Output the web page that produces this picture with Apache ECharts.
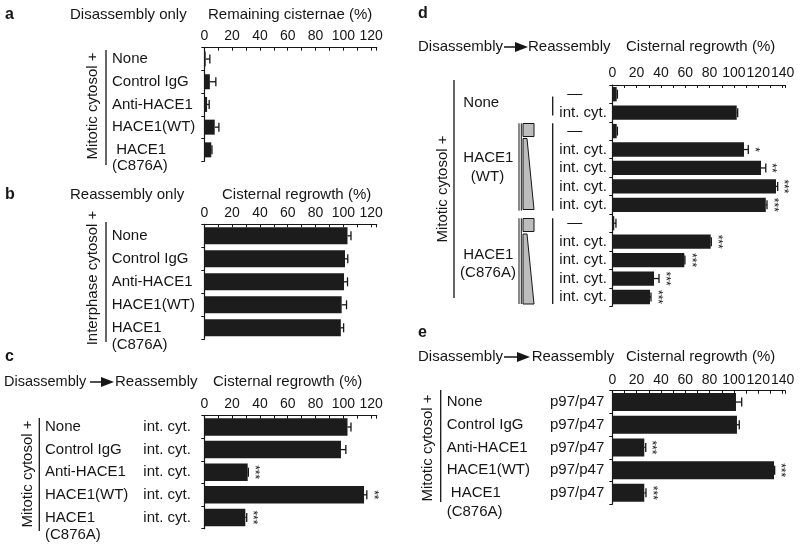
<!DOCTYPE html>
<html><head><meta charset="utf-8">
<script src="https://cdn.jsdelivr.net/npm/echarts@6/dist/echarts.min.js"></script>
<style>html,body{margin:0;padding:0;background:#fff}#c{width:800px;height:550px}</style>
</head><body><div id="c"></div>
<script>
// ---------- DATA ----------
// Panel a : Disassembly only, Remaining cisternae (%)
const aCats = ['None', 'Control IgG', 'Anti-HACE1', 'HACE1(WT)', ' HACE1\n(C876A)'];
const aVals = [1, 4, 2, 7.5, 5];
const aErr  = [3, 4.3, 1.5, 3, 0.5];
const aStars = ['', '', '', '', ''];
// Panel b : Reassembly only, Cisternal regrowth (%)
const bCats = ['None', 'Control IgG', 'Anti-HACE1', 'HACE1(WT)', 'HACE1\n(C876A)'];
const bVals = [103, 101.2, 100.5, 98.8, 98.2];
const bErr  = [2.5, 2, 2.5, 3.5, 2];
const bStars = ['', '', '', '', ''];
// Panel c : Disassembly -> Reassembly
const cCats = ['None', 'Control IgG', 'Anti-HACE1', 'HACE1(WT)', 'HACE1\n(C876A)'];
const cTreat = ['int. cyt.', 'int. cyt.', 'int. cyt.', 'int. cyt.', 'int. cyt.'];
const cVals = [103, 98.3, 31.2, 114.9, 29.5];
const cErr  = [2.5, 3.5, 0.5, 2, 1];
const cStars = ['', '', '***', '**', '***'];
// Panel d : titration
const dGroups = ['None', 'HACE1', '(WT)', 'HACE1', '(C876A)'];
const dRows = ['—', 'int. cyt.', '—', 'int. cyt.', 'int. cyt.', 'int. cyt.', 'int. cyt.', '—', 'int. cyt.', 'int. cyt.', 'int. cyt.', 'int. cyt.'];
const dVals = [3.6, 102.3, 3.6, 108.3, 122.3, 134.6, 126.2, 1.6, 80.9, 59.2, 34.3, 31];
const dErr  = [0.6, 0.8, 0.6, 3.5, 3.9, 1.4, 1, 1.4, 0.5, 0.5, 4.1, 0.8];
const dStars = ['', '', '', '*', '**', '***', '***', '', '***', '***', '***', '***'];
// Panel e : p97/p47
const eCats = ['None', 'Control IgG', 'Anti-HACE1', 'HACE1(WT)', ' HACE1\n(C876A)'];
const eTreat = ['p97/p47', 'p97/p47', 'p97/p47', 'p97/p47', 'p97/p47'];
const eVals = [101.7, 102.5, 26.3, 133, 26.3];
const eErr  = [4.7, 1.9, 1.2, 0.5, 1.4];
const eStars = ['', '', '***', '***', '***'];
// Tick labels
const ticks120 = [0, 20, 40, 60, 80, 100, 120];
const ticks140 = [0, 20, 40, 60, 80, 100, 120, 140];

// ---------- STYLE / LAYOUT ----------
const FONT = '"Liberation Sans", Arial, Helvetica, sans-serif';
const INK = '#161616';

const panels = [
  {cats: aCats, vals: aVals, err: aErr, stars: aStars, ticks: ticks120, max: 124,
   grid: {left: 204.3, top: 47.7, width: 172.4, height: 113.5}, barW: 15, lm: 92.3, tm: 5, lh: 16},
  {cats: bCats, vals: bVals, err: bErr, stars: bStars, ticks: ticks120, max: 124,
   grid: {left: 204.3, top: 224.3, width: 172.4, height: 115}, barW: 17, lm: 92.6, tm: 4, lh: 17},
  {cats: cCats, vals: cVals, err: cErr, stars: cStars, ticks: ticks120, max: 124, treat: cTreat, tlm: 61,
   grid: {left: 204.3, top: 415.7, width: 172.4, height: 113}, barW: 17.5, lm: 159.3, tm: 5, lh: 17},
  {cats: dRows, vals: dVals, err: dErr, stars: dStars, ticks: ticks140, max: 142, noLabels: true, treat: dRows, tlm: 53,
   grid: {left: 612.3, top: 85, width: 172.7, height: 221.2}, barW: 14.3, lm: 0, tm: 5, lh: 17},
  {cats: eCats, vals: eVals, err: eErr, stars: eStars, ticks: ticks140, max: 142, treat: eTreat, tlm: 62.3,
   grid: {left: 612.3, top: 390.7, width: 172.7, height: 113.5}, barW: 18, lm: 165.6, tm: 4, lh: 19}
];

function catLabel(s) {
  // multi-line labels: first line sits on the category centre
  return s.indexOf('\n') >= 0 ? '\u00a0\n' + s : s;
}

function errRender(stars) {
  return function (params, api) {
    const i = params.dataIndex;
    const v = api.value(0), e = api.value(1), c = api.value(2);
    const p0 = api.coord([v, c]);
    const p1 = api.coord([v + e, c]);
    const st = {stroke: INK, lineWidth: 1.3};
    const ch = [
      {type: 'line', shape: {x1: p0[0], y1: p0[1], x2: p1[0], y2: p1[1]}, style: st},
      {type: 'line', shape: {x1: p1[0], y1: p1[1] - 4.5, x2: p1[0], y2: p1[1] + 4.5}, style: st}
    ];
    if (stars[i]) {
      ch.push({type: 'text', x: p1[0] + 6, y: p1[1], rotation: -Math.PI / 2,
        style: {text: stars[i], fill: INK, fontSize: 12, fontFamily: FONT, align: 'center', verticalAlign: 'middle'}});
    }
    return {type: 'group', children: ch};
  };
}

const grid = [], xAxis = [], yAxis = [], series = [];
panels.forEach((p, gi) => {
  grid.push(Object.assign({containLabel: false}, p.grid));
  xAxis.push({
    type: 'value', gridIndex: gi, position: 'top', min: 0, max: p.max, interval: 20,
    axisLine: {show: true, lineStyle: {color: INK, width: 1.2}},
    axisTick: {show: true, inside: true, length: 3, lineStyle: {color: INK, width: 1}},
    minorTick: {show: true, splitNumber: 2, length: 3, lineStyle: {color: INK, width: 1}},
    splitLine: {show: false},
    axisLabel: {show: true, margin: p.tm, fontSize: 14, fontFamily: FONT, color: INK, showMaxLabel: false,
      formatter: v => (p.ticks.indexOf(v) >= 0 ? String(v) : '')}
  });
  const ids = p.cats.map((c, i) => 'r' + i);
  const mainY = yAxis.length;
  yAxis.push({
    type: 'category', gridIndex: gi, inverse: true, data: ids,
    axisLine: {show: true, lineStyle: {color: INK, width: 1.2}},
    axisTick: {show: true, length: 3, interval: 0, lineStyle: {color: INK, width: 1}},
    axisLabel: {show: !p.noLabels, interval: 0, align: 'left', margin: p.lm, fontSize: 15, fontFamily: FONT, color: INK,
      lineHeight: p.lh, formatter: (v, i) => catLabel(p.cats[i])}
  });
  if (p.treat) {
    yAxis.push({
      type: 'category', gridIndex: gi, inverse: true, data: ids, position: 'left', offset: 0,
      axisLine: {show: false}, axisTick: {show: false},
      axisLabel: {show: true, interval: 0, align: 'left', margin: p.tlm, fontSize: 15, fontFamily: FONT, color: INK,
        formatter: (v, i) => p.treat[i] === '—' ? '{d|—}' : p.treat[i],
        rich: {d: {fontSize: 15, fontFamily: FONT, color: INK, padding: [0, 0, 0, 8]}}}
    });
  }
  series.push({
    type: 'bar', xAxisIndex: gi, yAxisIndex: mainY, data: p.vals, barWidth: p.barW,
    itemStyle: {color: '#1c1c1c'}, silent: true, animation: false
  });
  series.push({
    type: 'custom', xAxisIndex: gi, yAxisIndex: mainY, silent: true, animation: false,
    data: p.vals.map((v, i) => [v, p.err[i], i]),
    encode: {x: 0, y: 2},
    renderItem: errRender(p.stars), z: 3
  });
});

// ---------- DECORATION (headers, brackets, arrows) ----------
function T(x, y, s, o) {
  return {type: 'text', x: x, y: y, silent: true,
    style: Object.assign({text: s, fill: INK, fontSize: 15, fontFamily: FONT, align: 'left', verticalAlign: 'middle'}, o || {})};
}
function L(x1, y1, x2, y2, w) {
  return {type: 'line', silent: true, shape: {x1, y1, x2, y2}, style: {stroke: INK, lineWidth: w || 1.3}};
}
function arrow(x1, x2, y) {
  return [L(x1, y, x2 - 10, y, 1.5),
    {type: 'polygon', silent: true, shape: {points: [[x2 - 13, y - 5], [x2, y], [x2 - 13, y + 5]]}, style: {fill: INK}}];
}
function rot(x, y, s) {
  return {type: 'text', x: x, y: y, rotation: Math.PI / 2, silent: true,
    style: {text: s, fill: INK, fontSize: 15, fontFamily: FONT, align: 'center', verticalAlign: 'middle'}};
}
const grey = {fill: '#bdbdbd', stroke: INK, lineWidth: 1};
const B = {fontWeight: 'bold', fontSize: 16};

const graphic = [
  // a
  T(5, 15, 'a', B), T(70, 15, 'Disassembly only'), T(208, 15, 'Remaining cisternae (%)'),
  L(106, 50, 106, 165), rot(93, 106, 'Mitotic cytosol +'),
  // b
  T(5, 195, 'b', B), T(70, 195, 'Reassembly only'), T(222, 195, 'Cisternal regrowth (%)'),
  L(106, 222, 106, 342), rot(93, 278, 'Interphase cytosol +'),
  // c
  T(5, 357, 'c', B), T(4, 382, 'Disassembly', {fontSize: 14.5}), ...arrow(90, 114, 382), T(115, 382, 'Reassembly'),
  T(213, 382, 'Cisternal regrowth (%)'),
  L(39.3, 418, 39.3, 531), rot(28.3, 474, 'Mitotic cytosol +'),
  // d
  T(418, 14, 'd', B), T(418, 47, 'Disassembly'), ...arrow(504, 528, 47), T(528, 47, 'Reassembly'),
  T(626, 47, 'Cisternal regrowth (%)'),
  L(454, 80, 454, 298), rot(443, 189, 'Mitotic cytosol +'),
  T(463.3, 103, dGroups[0]),
  T(463.3, 158.3, dGroups[1]), T(487.5, 176.7, dGroups[2], {align: 'center'}),
  T(463.3, 255, dGroups[3]), T(488, 273.3, dGroups[4], {align: 'center'}),
  L(552.7, 96.5, 552.7, 115.5), L(552.7, 123.3, 552.7, 210.7), L(552.7, 218.3, 552.7, 304),
  L(519, 123.3, 519, 210.7, 1), L(521.3, 123.3, 521.3, 210.7, 1),
  L(519, 218.3, 519, 304, 1), L(521.3, 218.3, 521.3, 304, 1),
  {type: 'rect', silent: true, shape: {x: 523, y: 123.5, width: 11, height: 13}, style: grey},
  {type: 'polygon', silent: true, shape: {points: [[523, 138.5], [527, 138.5], [534, 209.5], [523, 209.5]]}, style: grey},
  {type: 'rect', silent: true, shape: {x: 523, y: 218.5, width: 11, height: 13}, style: grey},
  {type: 'polygon', silent: true, shape: {points: [[523, 234], [527, 234], [534, 304], [523, 304]]}, style: grey},
  // e
  T(418, 333, 'e', B), T(418, 357, 'Disassembly'), ...arrow(504, 530, 357), T(531.7, 357, 'Reassembly'),
  T(626, 357, 'Cisternal regrowth (%)'),
  L(440.7, 390, 440.7, 502), rot(428, 448, 'Mitotic cytosol +')
];

const chart = echarts.init(document.getElementById('c'), null, {renderer: 'canvas'});
chart.setOption({
  animation: false,
  backgroundColor: '#fff',
  textStyle: {fontFamily: FONT},
  grid, xAxis, yAxis, series, graphic
});
</script></body></html>
